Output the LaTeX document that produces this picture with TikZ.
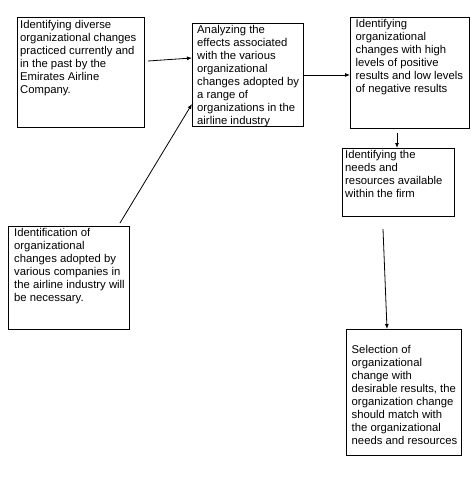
\documentclass[tikz,border=0pt]{standalone}
\usepackage{fontspec}
\setmainfont{Liberation Sans}
\usetikzlibrary{arrows.meta,calc}
\begin{document}
\begin{tikzpicture}[x=1pt,y=-1pt,
  box/.style={draw=black,line width=0.9pt,rectangle,inner sep=0pt,anchor=north west},
  txt/.style={inner sep=0pt,anchor=north west,align=left,font=\fontsize{11.3}{13}\selectfont},
  arr/.style={draw=black,line width=0.8pt,-{Latex[length=5pt,width=4pt]}}]
\useasboundingbox (0,0) rectangle (475,495);
% boxes
\node[box,minimum width=127pt,minimum height=110pt] (a) at (17,17) {};
\node[box,minimum width=111pt,minimum height=103pt] (b) at (192,23) {};
\node[box,minimum width=119pt,minimum height=111pt] (c) at (350,17) {};
\node[box,minimum width=112pt,minimum height=68pt] (d) at (342,148) {};
\node[box,minimum width=121pt,minimum height=103pt] (f) at (8,226) {};
\node[box,minimum width=115pt,minimum height=126pt] (e) at (346,329) {};
% texts
\node[txt] (at) at (20,20) {Identifying diverse\\organizational changes\\practiced currently and\\in the past by the\\Emirates Airline\\Company.};
\node[txt] (bt) at (197,25) {Analyzing the\\effects associated\\with the various\\organizational\\changes adopted by\\a range of\\organizations in the\\airline industry};
\node[txt] (ct) at (355.5,19.5) {Identifying\\organizational\\changes with high\\levels of positive\\results and low levels\\of negative results};
\node[txt] (dt) at (345,150.5) {Identifying the\\needs and\\resources available\\within the firm};
\node[txt] (ft) at (14,228.5) {Identification of\\organizational\\changes adopted by\\various companies in\\the airline industry will\\be necessary.};
\node[txt] (et) at (351.5,345.5) {Selection of\\organizational\\change with\\desirable results, the\\organization change\\should match with\\the organizational\\needs and resources};
% connectors
\coordinate (fs) at ($(f.north west)+(112,-3)$);
\draw[arr] ($(a.north east)+(3,44)$) -- ($(b.north west)+(0,35)$);
\draw[arr] (fs) -- ($(b.north west)+(0,81)$);
\draw[arr] (b.east) -- (b.east -| c.west);
\draw[arr] ($(c.south west)+(47,4)$) -- ($(d.north west)+(55,0)$);
\draw[arr] ($(d.south west)+(41,12)$) -- ($(e.north west)+(41,0)$);
\end{tikzpicture}
\end{document}
